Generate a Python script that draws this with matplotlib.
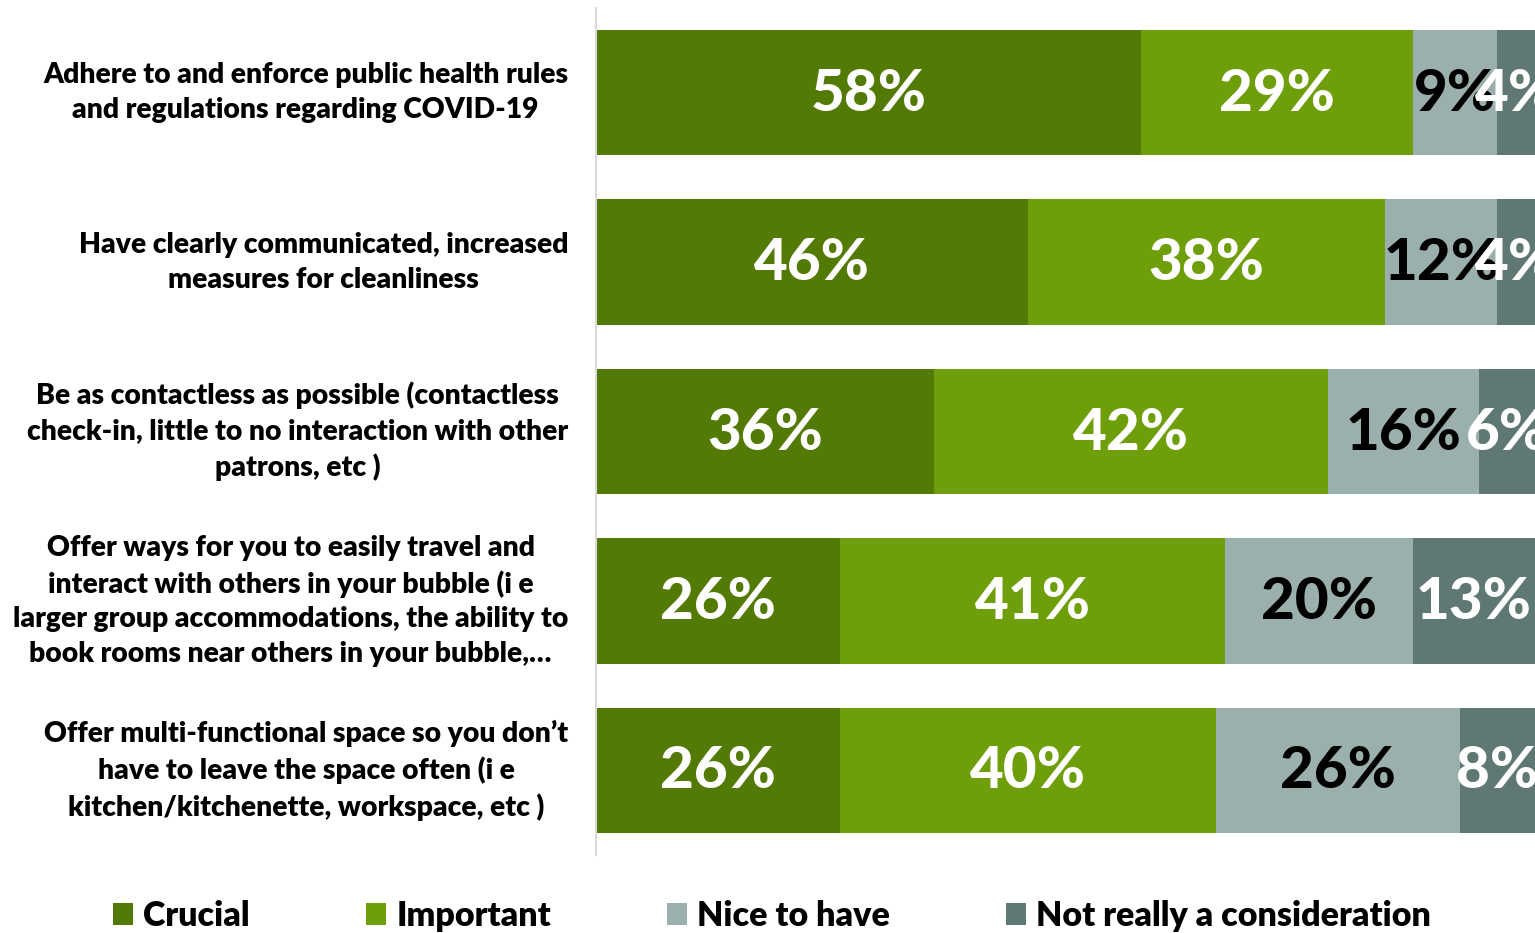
import matplotlib.pyplot as plt
import numpy as np

plt.rcParams['font.family'] = ['Lato', 'DejaVu Sans']

categories = [
    'Adhere to and enforce public health rules\nand regulations regarding COVID-19',
    'Have clearly communicated, increased\nmeasures for cleanliness',
    'Be as contactless as possible (contactless\ncheck-in, little to no interaction with other\npatrons, etc )',
    'Offer ways for you to easily travel and\ninteract with others in your bubble (i e\nlarger group accommodations, the ability to\nbook rooms near others in your bubble,…',
    'Offer multi-functional space so you don’t\nhave to leave the space often (i e\nkitchen/kitchenette, workspace, etc )',
]
series = ['Crucial', 'Important', 'Nice to have', 'Not really a consideration']
crucial = [58, 46, 36, 26, 26]
important = [29, 38, 42, 41, 40]
nice = [9, 12, 16, 20, 26]
not_really = [4, 4, 6, 13, 8]

colors = ['#537A05', '#6E9F0A', '#9BAFAC', '#5F7874']
text_colors = ['white', 'white', 'black', 'white']

fig = plt.figure(figsize=(15.35, 9.33), dpi=100)
ax = fig.add_axes([596 / 1535, 1 - 855 / 933, 1 - 596 / 1535, (855 - 8) / 933])

y = np.arange(len(categories))
left = np.zeros(len(categories))
handles = []
for vals, name, c, tc in zip([crucial, important, nice, not_really], series, colors, text_colors):
    bars = ax.barh(y, vals, left=left, height=0.74, color=c, label=name)
    handles.append(bars)
    for yi, v, l in zip(y, vals, left):
        ax.text(l + v / 2, yi + 0.01, f'{v}%', ha='center', va='center', color=tc,
                fontsize=42, fontweight='black', clip_on=False)
    left = left + np.array(vals)

ax.set_xlim(0, 100)
ax.set_ylim(4.5, -0.5)

# category labels, right edge 20pt left of the axis line
for yi, cat in zip(y, categories):
    ax.annotate(cat, xy=(0, yi), xytext=(-20, 0), textcoords='offset points',
                ha='right', va='center', multialignment='center',
                fontsize=20.3, fontweight='heavy', linespacing=1.42)

ax.set_yticks([])
ax.set_xticks([])
for s in ['top', 'right', 'bottom']:
    ax.spines[s].set_visible(False)
ax.spines['left'].set_color('#D9D9D9')
ax.spines['left'].set_linewidth(1.5)

fig.legend(handles=handles, labels=series, loc='center', bbox_to_anchor=(772 / 1535, 1 - 916 / 933),
           ncol=4, frameon=False, prop={'size': 24.5, 'weight': 'heavy'},
           handlelength=0.6, handleheight=0.6, handletextpad=0.3, columnspacing=3.4,
           borderaxespad=0, borderpad=0)

fig.savefig('out.png', dpi=100)
